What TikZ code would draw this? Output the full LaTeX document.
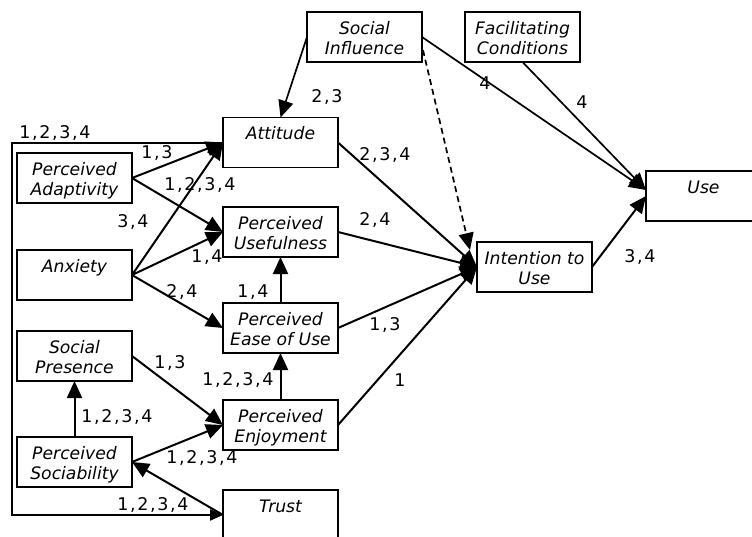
\documentclass[tikz,border=0pt]{standalone}
\usepackage{fontspec}
\usetikzlibrary{arrows.meta,calc}
\newfontfamily\boxfont{DejaVu Sans}
\newfontfamily\lblfont[LetterSpace=9.5]{DejaVu Sans}
\tikzset{
  box/.style={draw, line width=1.5pt, minimum width=115pt, minimum height=50pt, inner sep=0pt, outer sep=0pt},
  boxtxt/.style={anchor=north, inner sep=0pt, align=center, font=\boxfont\itshape\fontsize{17.2}{20}\selectfont},
  lbl/.style={inner sep=0pt, font=\lblfont\fontsize{17.5}{19}\selectfont},
  con/.style={line width=2pt, -{Triangle[length=17pt,width=15pt]}},
  thin con/.style={line width=1.7pt, -{Triangle[length=17pt,width=15pt]}},
  dash con/.style={line width=1.7pt, dash pattern=on 6pt off 4pt, -{Triangle[length=17pt,width=15pt]}},
}
\newcommand\bx[4]{\node[box] (#1) at (#2,#3) {};
  \node[boxtxt] (#1t) at ([yshift=-8pt]#1.north) {#4};}
\begin{document}
\begin{tikzpicture}[x=1pt,y=-1pt]
\useasboundingbox (0,0) rectangle (752,536);
\clip (0,0) rectangle (752,536);
% boxes
\bx{si}{364.5}{37}{\strut Social\\\strut Influence}
\bx{fc}{522.5}{37}{\strut Facilitating\\\strut Conditions}
\bx{use}{703.5}{196}{\strut Use}
\bx{iu}{534.5}{267}{\strut Intention to\\\strut Use}
\bx{att}{280.5}{142.5}{\strut Attitude}
\bx{pu}{280.5}{232}{\strut Perceived\\\strut Usefulness}
\bx{peou}{280.5}{328}{\strut Perceived\\\strut Ease of Use}
\bx{pe}{280.5}{425}{\strut Perceived\\\strut Enjoyment}
\bx{tr}{280.5}{515}{\strut Trust}
\bx{pa}{74.5}{178}{\strut Perceived\\\strut Adaptivity}
\bx{anx}{74.5}{275}{\strut Anxiety}
\bx{sp}{74.5}{356}{\strut Social\\\strut Presence}
\bx{ps}{74.5}{462}{\strut Perceived\\\strut Sociability}
% helper coordinates
\coordinate (usein) at (646,190);
\coordinate (iudash) at (470,250);
\coordinate (sidash) at (423,50);
\coordinate (lt) at (12,142.5);
\coordinate (lb) at (12,515);
% connectors
\draw[thin con] (si.west) -- (att.north);
\draw[dash con] (sidash) -- (iudash);
\draw[thin con] (si.east) -- (usein);
\draw[thin con] (fc.south) -- (usein);
\draw[con] (iu.east) -- (use.west);
\draw[con] (att.east) -- (iu.west);
\draw[con] (pu.east) -- (iu.west);
\draw[con] (peou.east) -- (iu.west);
\draw[con] (pe.east) -- (iu.west);
\draw[con] (pa.east) -- (att.west);
\draw[con] (pa.east) -- (pu.west);
\draw[con] (anx.east) -- (att.west);
\draw[con] (anx.east) -- (pu.west);
\draw[con] (anx.east) -- (peou.west);
\draw[con] (peou.north) -- (pu.south);
\draw[con] (pe.north) -- (peou.south);
\draw[con] (sp.east) -- (pe.west);
\draw[con] (ps.north) -- (sp.south);
\draw[con] (ps.east) -- (pe.west);
\draw[con] (tr.west) -- (ps.east);
\draw[line width=2pt, -{Triangle[length=13pt,width=11pt]}] (att.west) -- (lt) -- (lb) -- (tr.west);
% labels
\node[lbl] (l1) at (327,97) {2,3};
\node[lbl] (l2) at (485,83) {4};
\node[lbl] (l3) at (582,102) {4};
\node[lbl] (l4) at (640,257) {3,4};
\node[lbl] (l5) at (385,155) {2,3,4};
\node[lbl] (l6) at (375,220) {2,4};
\node[lbl] (l7) at (385,325) {1,3};
\node[lbl] (l8) at (400,380) {1};
\node[lbl] (l9) at (157,153) {1,3};
\node[lbl] (l10) at (200,185) {1,2,3,4};
\node[lbl] (l11) at (133,222) {3,4};
\node[lbl] (l12) at (207,257) {1,4};
\node[lbl] (l13) at (182,292) {2,4};
\node[lbl] (l14) at (253,292) {1,4};
\node[lbl] (l15) at (238,380) {1,2,3,4};
\node[lbl] (l16) at (170,363) {1,3};
\node[lbl] (l17) at (117,417) {1,2,3,4};
\node[lbl] (l18) at (202,458) {1,2,3,4};
\node[lbl] (l19) at (153,505) {1,2,3,4};
\node[lbl] (l20) at (55,133) {1,2,3,4};
\end{tikzpicture}
\end{document}
